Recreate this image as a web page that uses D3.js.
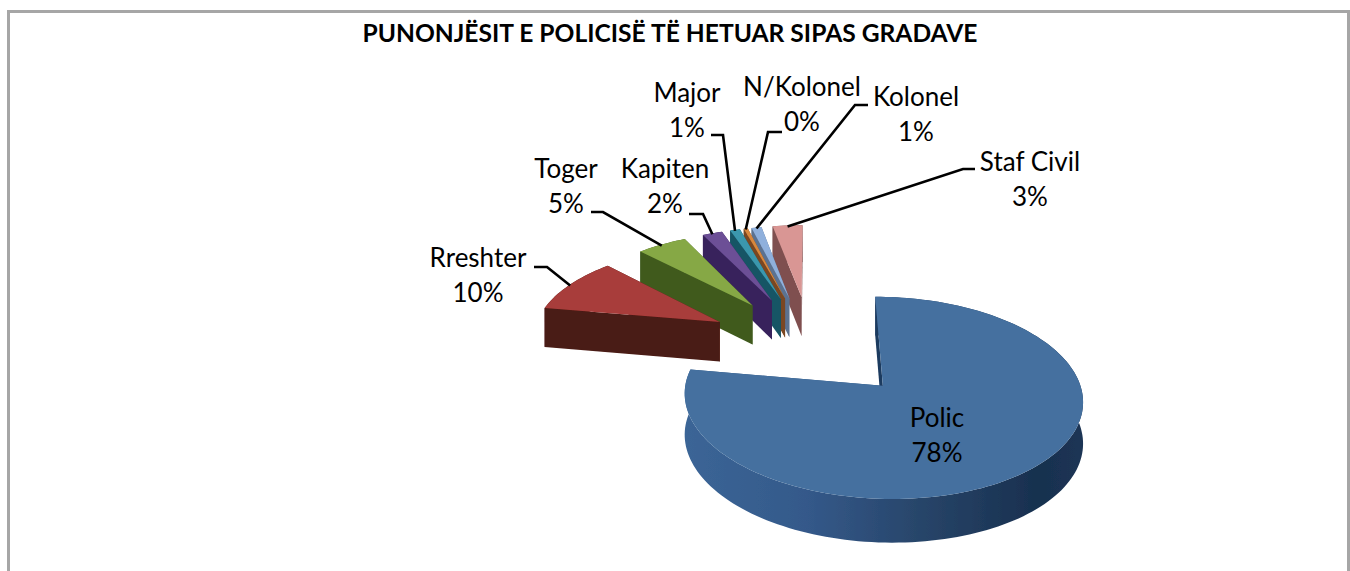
<!DOCTYPE html>
<html><head><meta charset="utf-8">
<script src="https://cdn.jsdelivr.net/npm/d3@7/dist/d3.min.js"></script>
<style>html,body{margin:0;padding:0;background:#fff;overflow:hidden}svg{display:block}text{font-family:Lato,"Open Sans",sans-serif;fill:#000}</style>
</head><body><svg id="c" width="1350" height="571"></svg>
<script>
const chartTitle = "PUNONJËSIT E POLICISË TË HETUAR SIPAS GRADAVE";
const categories = ["Polic","Rreshter","Toger","Kapiten","Major","N/Kolonel","Kolonel","Staf Civil"];
const shareValues = [78,10,5,2,1,0.4,1,3];

const topColors  = ["#44709f","#a83c3a","#86a845","#6c4f96","#3a97ad","#d8883e","#8fb0dc","#d99694"];
const sideColors = ["#2f5480","#4a1a13","#3f5a1e","#38245c","#175465","#7a4620","#5c7290","#7f5050"];
const labelCenters = [[937,418],[478,258],[566,169],[665,169],[687,93],[802,87],[916,97],[1030,162]];
const leaderElbows = [null,[[534,267],[547,267]],[[591,212],[603,212]],[[689,214],[703,214]],[[711,135],[723,135]],[[782,132],[768,132]],[[868,105],[855,105]],[[975,169],[963,169]]];

const originX=811, originY=345, tilt=0.48, persp=0.0006, radius=188, explode=106, depth=40;
const svg=d3.select("#c");
const project=(X,Y,drop=0)=>{const p=1/(1+persp*Y);return [originX+X*p, originY-tilt*Y*p+drop*Math.sqrt(p)];};
const line=d3.line().curve(d3.curveLinear);

const arcs=d3.pie().sort(null).value(d=>d)(shareValues);
const defs=svg.append("defs");
const blur=defs.append("filter").attr("id","soft").attr("x","-5%").attr("y","-5%").attr("width","110%").attr("height","110%");
blur.append("feGaussianBlur").attr("stdDeviation",0.7);
const sideGrad=defs.append("linearGradient").attr("id","policSide").attr("gradientUnits","userSpaceOnUse")
  .attr("x1",687).attr("x2",1085).attr("y1",0).attr("y2",0);
[[0,"#3b6596"],[0.3,"#34598a"],[0.6,"#274468"],[0.88,"#18304f"],[1,"#1c3555"]].forEach(s=>sideGrad.append("stop").attr("offset",s[0]).attr("stop-color",s[1]));

// frame (open at the bottom)
svg.append("path").attr("d",line([[8.5,571],[8.5,11.5],[1348.5,11.5],[1348.5,571]])).attr("fill","none").attr("stroke","#a6a6a6").attr("stroke-width",3);

svg.append("text").attr("x",670).attr("y",42).attr("text-anchor","middle").attr("font-size",24.6).attr("font-weight",700).text(chartTitle);

const g=svg.append("g").attr("filter","url(#soft)");
const order=[7,6,5,4,3,2,1,0];
const geom=arcs.map(a=>{
  const mid=(a.startAngle+a.endAngle)/2;
  const cx=explode*Math.sin(mid), cy=explode*Math.cos(mid);
  const pts=[];const steps=Math.max(2,Math.ceil((a.endAngle-a.startAngle)/0.03));
  for(let i=0;i<=steps;i++){const t=a.startAngle+(a.endAngle-a.startAngle)*i/steps;pts.push([cx+radius*Math.sin(t),cy+radius*Math.cos(t)]);}
  return {cx,cy,rim:pts,mid};
});
order.forEach(i=>{
  const s=geom[i], first=s.rim[0], last=s.rim[s.rim.length-1];
  const P=(q,d=0)=>project(q[0],q[1],d);
  const ctr=[s.cx,s.cy];
  const side=i===0?"url(#policSide)":sideColors[i];
  const wall=(q)=>line([P(ctr),P(q),P(q,depth),P(ctr,depth)])+"Z";
  g.append("path").attr("d",wall(last)).attr("fill",sideColors[i]);
  g.append("path").attr("d",line([...s.rim.map(q=>P(q)),...s.rim.slice().reverse().map(q=>P(q,depth))])+"Z").attr("fill",side);
  g.append("path").attr("d",wall(first)).attr("fill",i===0?"#1c3a5e":sideColors[i]);
  g.append("path").attr("d",line([P(ctr),...s.rim.map(q=>P(q))])+"Z").attr("fill",topColors[i]);
});

// leader lines run from each label elbow to the rim midpoint of its slice
leaderElbows.forEach((el,i)=>{
  if(!el) return;
  const s=geom[i];
  const end=project(s.cx+radius*Math.sin(s.mid),s.cy+radius*Math.cos(s.mid));
  svg.append("path").attr("d",line([...el,[end[0],end[1]+1]])).attr("fill","none").attr("stroke","#000").attr("stroke-width",2.6);
});

categories.forEach((c,i)=>{
  const [x,y]=labelCenters[i];
  svg.append("text").attr("x",x).attr("y",y+9).attr("text-anchor","middle").attr("font-size",26).text(c);
  svg.append("text").attr("x",x).attr("y",y+44).attr("text-anchor","middle").attr("font-size",26).text(Math.round(shareValues[i])+"%");
});
</script></body></html>
